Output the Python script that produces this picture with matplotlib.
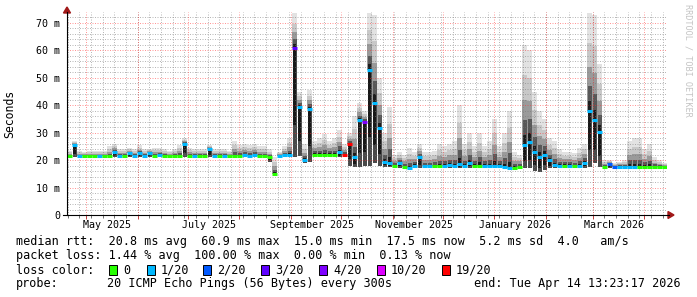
import numpy as np
import matplotlib
matplotlib.use('Agg')
import matplotlib.pyplot as plt
import matplotlib.dates as mdates
from matplotlib.patches import Rectangle, Polygon
from matplotlib.lines import Line2D
from datetime import datetime, timedelta

W, H = 697, 297
plt.rcParams['font.family'] = ['DejaVu Sans Mono', 'DejaVu Sans']

# time range of the graph (one sample = 3 days)
start = datetime(2025, 4, 19, 13, 23, 17)
end = datetime(2026, 4, 14, 13, 23, 17)
step_days = 3

# median rtt (ms)
median_ms = [
    21.5, 25.5, 21.5, 21.5, 21.5, 21.5, 21.5, 21.5, 21.5, 23.0,
    21.5, 21.5, 22.5, 21.5, 22.5, 21.5, 22.5, 21.5, 22.0, 21.5,
    21.5, 21.5, 21.5, 26.0, 21.5, 21.5, 21.5, 21.5, 24.0, 21.5,
    21.5, 21.5, 21.5, 21.5, 21.5, 22.0, 21.5, 22.0, 21.5, 21.5,
    21.0, 15.0, 21.5, 22.0, 22.0, 60.9, 39.5, 20.0, 38.8, 22.0,
    22.0, 22.0, 22.0, 22.0, 23.0, 22.0, 26.0, 21.0, 34.6, 34.0,
    52.9, 41.0, 31.7, 19.4, 19.0, 17.8, 19.0, 17.6, 17.0, 18.0,
    21.0, 17.8, 17.8, 17.8, 17.8, 17.8, 18.2, 17.8, 18.5, 17.8,
    19.0, 17.8, 18.0, 17.8, 17.8, 17.8, 17.8, 17.5, 17.3, 17.2,
    17.5, 25.5, 26.7, 23.0, 21.3, 22.0, 20.0, 18.2, 18.0, 18.0,
    18.0, 17.8, 18.0, 19.0, 38.0, 34.6, 30.4, 17.6, 18.6, 17.6,
    17.6, 17.6, 17.6, 17.6, 17.6, 17.6, 17.6, 17.6, 17.6, 17.6,
]

# top of the smoke (ms)
smoke_hi = [
    23.5, 27.0, 23.5, 23.0, 23.5, 23.5, 23.5, 23.5, 25.0, 26.0,
    24.0, 24.0, 24.5, 24.0, 25.5, 24.0, 24.0, 24.5, 24.5, 24.0,
    23.5, 24.0, 25.5, 28.0, 24.5, 24.0, 24.0, 24.0, 25.5, 24.0,
    24.0, 24.0, 23.5, 27.0, 25.5, 26.0, 25.5, 26.0, 25.0, 25.0,
    24.0, 21.0, 23.0, 25.0, 28.0, 73.5, 45.0, 26.0, 45.5, 27.0,
    28.0, 29.5, 27.0, 28.0, 31.0, 26.0, 30.0, 36.0, 41.0, 38.0,
    73.5, 73.0, 50.0, 30.0, 39.5, 22.0, 23.0, 22.0, 24.5, 23.0,
    26.0, 23.0, 23.0, 23.5, 26.0, 25.0, 26.0, 27.0, 40.0, 26.0,
    30.0, 25.0, 30.0, 25.0, 27.0, 35.0, 25.0, 30.0, 38.0, 23.0,
    22.0, 62.0, 60.0, 45.0, 38.0, 35.0, 28.0, 27.0, 24.0, 23.0,
    23.0, 22.5, 24.5, 26.0, 73.5, 73.0, 55.0, 20.0, 20.0, 19.0,
    19.5, 20.0, 27.0, 28.0, 28.0, 24.0, 26.0, 21.0, 20.0, 19.0,
]

# bottom of the smoke (ms)
smoke_lo = [
    21.0, 21.0, 21.0, 21.0, 21.0, 21.0, 21.0, 21.0, 21.0, 21.0,
    21.0, 21.0, 21.0, 21.0, 21.0, 21.0, 21.0, 21.0, 21.0, 21.0,
    21.0, 21.0, 21.0, 21.0, 21.0, 21.0, 21.0, 21.0, 21.0, 21.0,
    21.0, 21.0, 21.0, 21.0, 21.0, 21.0, 21.0, 21.0, 21.0, 21.0,
    19.5, 14.5, 21.0, 21.0, 21.0, 21.0, 21.5, 19.0, 19.5, 21.0,
    21.0, 21.0, 21.0, 21.0, 21.0, 21.0, 18.0, 17.5, 17.5, 18.0,
    18.0, 19.0, 18.0, 17.5, 17.5, 17.2, 17.2, 17.0, 16.5, 17.2,
    17.2, 17.2, 17.2, 17.2, 17.2, 17.2, 17.2, 17.2, 17.2, 17.2,
    17.2, 17.2, 17.2, 17.2, 17.2, 17.2, 17.2, 17.0, 16.8, 16.8,
    17.0, 17.0, 17.0, 16.0, 15.5, 16.5, 17.0, 17.0, 17.2, 17.2,
    17.2, 17.2, 17.2, 17.2, 17.5, 19.0, 17.5, 17.2, 17.2, 17.2,
    17.2, 17.2, 17.2, 17.2, 17.2, 17.2, 17.2, 17.2, 17.2, 17.2,
]

# loss class per sample (index into loss_colors)
loss_idx = [
    0, 1, 1, 0, 0, 0, 1, 0, 0, 1,
    1, 0, 1, 1, 1, 1, 1, 0, 1, 0,
    0, 0, 0, 1, 0, 1, 0, 0, 1, 1,
    0, 1, 0, 0, 0, 1, 1, 1, 0, 0,
    0, 0, 1, 1, 1, 3, 1, 1, 1, 0,
    0, 0, 0, 0, 1, 6, 6, 1, 1, 4,
    1, 1, 1, 1, 1, 0, 1, 0, 1, 1,
    1, 1, 1, 0, 0, 1, 1, 1, 1, 1,
    1, 0, 0, 1, 1, 1, 1, 1, 1, 0,
    0, 1, 1, 1, 1, 1, 1, 1, 1, 0,
    1, 0, 1, 1, 1, 1, 1, 0, 2, 2,
    1, 1, 1, 1, 0, 0, 0, 0, 0, 0,
]

loss_colors = ['#26ff00', '#00b8ff', '#0059ff', '#5e00ff', '#7e00ff', '#dd00ff', '#ff0000']
loss_labels = ['0', '1/20', '2/20', '3/20', '4/20', '10/20', '19/20']

y_ticks = [0, 10, 20, 30, 40, 50, 60, 70]
y_labels = ['0', '10 m', '20 m', '30 m', '40 m', '50 m', '60 m', '70 m']

month_labels = ['May 2025', 'July 2025', 'September 2025', 'November 2025',
                'January 2026', 'March 2026']
month_label_days = [datetime(2025, 5, 13, 12), datetime(2025, 7, 13, 12),
                    datetime(2025, 9, 13, 12), datetime(2025, 11, 13, 12),
                    datetime(2026, 1, 13, 12), datetime(2026, 3, 13, 12)]

legend_rtt = 'median rtt:  20.8 ms avg  60.9 ms max  15.0 ms min  17.5 ms now  5.2 ms sd  4.0   am/s'
legend_loss = 'packet loss: 1.44 % avg  100.00 % max  0.00 % min  0.13 % now'
probe_text = '20 ICMP Echo Pings (56 Bytes) every 300s'
end_text = 'end: Tue Apr 14 13:23:17 2026'


def fx(px):
    return px / W


def fy(py):
    return 1 - py / H


fig = plt.figure(figsize=(W / 100, H / 100), dpi=100)
fig.patch.set_facecolor('white')
# plot area: x 67..667, y 12..215 (picture pixels from the top)
ax = fig.add_axes([fx(67), fy(215), 600 / W, 203 / H])

x = np.array([mdates.date2num(start + timedelta(days=step_days * i)) for i in range(len(median_ms))])
xc = x + step_days / 2
med = np.array(median_ms)
hi = np.array(smoke_hi)
lo = np.array(smoke_lo)

# smoke: lighter (and wider) the further from the median
up_layers = [(1.0, '#e2e2e2', 1.0), (0.7, '#c8c8c8', 1.0), (0.45, '#9a9a9a', 1.0),
             (0.25, '#585858', 0.8), (0.1, '#1c1c1c', 0.5)]
for f, c, wf in up_layers:
    ax.bar(xc, (hi - med) * f, bottom=med, width=step_days * wf, align='center',
           color=c, linewidth=0, antialiased=False, zorder=2)
down_layers = [(1.0, '#4a4a4a', 0.8), (0.7, '#181818', 0.5)]
for f, c, wf in down_layers:
    ax.bar(xc, (med - lo) * f, bottom=med - (med - lo) * f, width=step_days * wf, align='center',
           color=c, linewidth=0, antialiased=False, zorder=2)

# grid
minor_kw = dict(color=(0.45, 0.45, 0.45), alpha=0.5, lw=0.72, ls=(0, (1, 1.5)), zorder=3)
major_kw = dict(color='#ff3030', alpha=0.5, lw=0.72, ls=(0, (1, 1.5)), zorder=3)
for v in range(2, 74, 2):
    if v % 10:
        ax.axhline(v, **minor_kw)
for v in y_ticks[1:]:
    ax.axhline(v, **major_kw)

day = datetime(2025, 4, 20)  # first Sunday
weeks = []
while day < end:
    weeks.append(mdates.date2num(day))
    day += timedelta(days=7)
months = []
for k in range(12):
    yy, mm = 2025 + (4 + k) // 12, (4 + k) % 12 + 1
    months.append(mdates.date2num(datetime(yy, mm, 1)))
for w in weeks:
    ax.axvline(w, **minor_kw)
for m in months:
    ax.axvline(m, **major_kw)

# median line coloured by loss
ax.hlines(med, x, x + step_days, colors=[loss_colors[k] for k in loss_idx],
          linewidth=2.2, zorder=4, capstyle='butt')

ax.set_xlim(mdates.date2num(start), mdates.date2num(end))
ax.set_ylim(0, 74)
for s in ax.spines.values():
    s.set_visible(False)
ax.set_yticks(y_ticks, y_labels)
ax.tick_params(axis='y', length=0, pad=5, labelsize=7.2)
ax.set_xticks(months)
ax.set_xticks(weeks, minor=True)
ax.tick_params(axis='x', which='major', length=3, width=0.7, color='#c04040', labelbottom=False)
ax.tick_params(axis='x', which='minor', length=2, width=0.7, color='#707070')

for lab, d in zip(month_labels, month_label_days):
    fig.text(fx(67 + (mdates.date2num(d) - mdates.date2num(start)) * 600 / 360), fy(225), lab,
             ha='center', va='center', fontsize=7.2)

# axes with arrows
fig.add_artist(Line2D([fx(67), fx(67)], [fy(215), fy(12)], color='black', lw=0.8))
fig.add_artist(Line2D([fx(63), fx(669)], [fy(215), fy(215)], color='black', lw=0.8))
fig.add_artist(Polygon([(fx(63.5), fy(13)), (fx(70.5), fy(13)), (fx(67), fy(7))],
                       closed=True, color='#a01818', transform=fig.transFigure))
fig.add_artist(Polygon([(fx(668), fy(211.5)), (fx(668), fy(218.5)), (fx(674), fy(215))],
                       closed=True, color='#a01818', transform=fig.transFigure))

fig.text(fx(10), fy(114), 'Seconds', rotation=90, ha='center', va='center', fontsize=8.3)
fig.text(fx(688), fy(60), 'RRDTOOL / TOBI OETIKER', rotation=270, ha='center', va='center',
         fontsize=6.1, color='#c4c4c4')

# legend
fs = 8.5
fig.text(fx(16), fy(241), legend_rtt, ha='left', va='center', fontsize=fs)
fig.text(fx(16), fy(256), legend_loss, ha='left', va='center', fontsize=fs)
fig.text(fx(16), fy(270), 'loss color:', ha='left', va='center', fontsize=fs)
box_x = [109, 147, 203, 261, 319, 377, 442]
for bx, c, lab in zip(box_x, loss_colors, loss_labels):
    fig.add_artist(Rectangle((fx(bx), fy(275)), 8 / W, 10 / H, facecolor=c,
                             edgecolor='black', lw=0.7, transform=fig.transFigure))
    fig.text(fx(bx + 14), fy(270), lab, ha='left', va='center', fontsize=fs)
fig.text(fx(16), fy(284), 'probe:', ha='left', va='center', fontsize=fs)
fig.text(fx(107), fy(284), probe_text, ha='left', va='center', fontsize=fs)
fig.text(fx(681), fy(284), end_text, ha='right', va='center', fontsize=fs)

fig.savefig('out.png', dpi=100)
